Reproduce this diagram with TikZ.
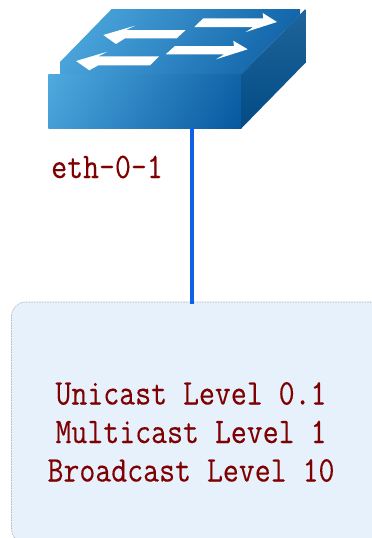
\documentclass[tikz,border=0pt]{standalone}
\usepackage{fontspec}
\newfontfamily\lblfont[FakeBold=0.25]{Latin Modern Mono}
\definecolor{lbl}{HTML}{7F0000}
\definecolor{boxfill}{HTML}{E6F1FC}
\definecolor{linkc}{HTML}{0F62E6}
\definecolor{faceA}{HTML}{4FAADF}
\definecolor{faceB}{HTML}{06589F}
\definecolor{sideA}{HTML}{1F659B}
\definecolor{sideB}{HTML}{024B85}
\tikzset{
  lbltext/.style={text=lbl,font=\lblfont\fontsize{36}{38.5}\selectfont,xscale=.86,align=center,inner sep=0pt},
  panel/.style={draw=black!45,densely dotted,line width=.6pt,fill=boxfill,rounded corners=14pt,inner sep=0pt},
  link/.style={draw=linkc,line width=4.5pt},
  flow/.style={fill=white,draw=none},
}
\begin{document}
\begin{tikzpicture}[x=1pt,y=-1pt]
\useasboundingbox (0,0) rectangle (372,538);
\clip (0,0) rectangle (372,538);
% panel
\node[panel,minimum width=373pt,minimum height=241pt] (levels) at (198,422.5) {};
\node[lbltext] (leveltext) at (191,432) {Unicast Level 0.1\\Multicast Level 1\\Broadcast Level 10};
% switch
\begin{scope}
\clip (48.3,74) -- (111.7,9) -- (305.3,9) -- (241.7,74) -- cycle;
\shade[left color=faceA,right color=faceB,shading angle=60] (60,-60) rectangle (300,180);
\end{scope}
\begin{scope}
\clip (48.3,74) rectangle (241.7,128);
\shade[left color=faceA,right color=faceB,shading angle=60] (48,4) rectangle (242,198);
\end{scope}
\begin{scope}
\clip (241.7,74) -- (305.3,9) -- (305.3,63) -- (241.7,128) -- cycle;
\shade[top color=sideA,bottom color=sideB] (241.7,9) rectangle (305.3,128);
\end{scope}
\fill[flow] (103.3,35) -- (135,25.7) -- (126,30) -- (185.7,30) -- (176.7,38.3) -- (125,38.3) -- (116,44) -- cycle;
\fill[flow] (76,61) -- (107.3,51.7) -- (98.3,56.3) -- (159,56.3) -- (150,65.3) -- (98.3,65.3) -- (89.3,70.3) -- cycle;
\fill[flow] (277,22) -- (262.7,13) -- (263.3,18.3) -- (203.3,18.3) -- (194.3,27) -- (253.3,27) -- (245.7,32) -- cycle;
\fill[flow] (247.7,49.3) -- (233.3,40.7) -- (234,46) -- (175,46) -- (165.7,54.3) -- (224.3,54.3) -- (216,59.3) -- cycle;
% link
\coordinate (swport) at (192,128);
\path[link] (swport) -- (swport |- levels.north) -- ++(0,2);
\node[lbltext] (ethlabel) at (107,167) {eth-0-1};
\end{tikzpicture}
\end{document}
